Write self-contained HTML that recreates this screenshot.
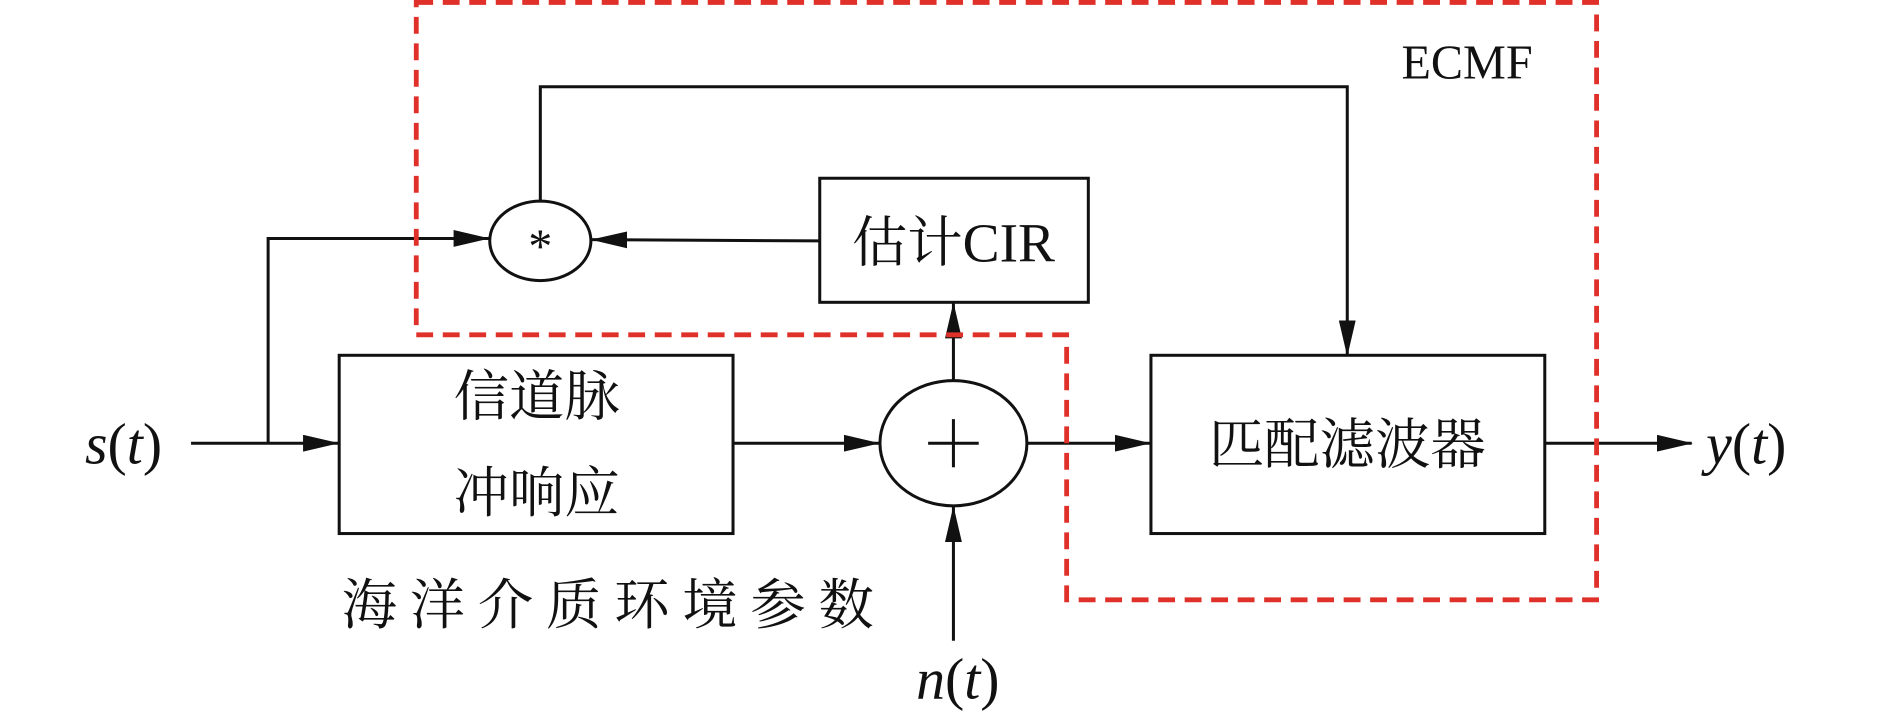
<!DOCTYPE html>
<html><head><meta charset="utf-8"><style>
html,body{margin:0;padding:0;background:#fff;}
svg{display:block;}
text{font-family:"Liberation Serif","Noto Serif CJK SC",serif;fill:#111;}
</style></head><body>
<svg width="1890" height="713" viewBox="0 0 1568 592" xmlns="http://www.w3.org/2000/svg">
<defs>
<marker id="a" markerWidth="12" markerHeight="10" refX="11" refY="5" orient="auto" markerUnits="userSpaceOnUse">
<path d="M0,0 L12,5 L0,10 Z" fill="#111"/></marker>
<marker id="b" markerWidth="30" markerHeight="14" refX="29" refY="7" orient="auto" markerUnits="userSpaceOnUse">
<path d="M0,0 L30,7 L0,14 Z" fill="#111"/></marker>
</defs>
<g fill="none" stroke="#111" stroke-width="2.5">
<!-- feedback -->
<polyline points="448,167 448,72 1118,72 1118,295" marker-end="url(#b)"/>
<ellipse cx="448" cy="200" rx="42" ry="33"/>
<rect x="680" y="148" width="223" height="103"/>
<line x1="680" y1="200" x2="491" y2="199" marker-end="url(#b)"/>
<polyline points="222,368 222,198 405,198" marker-end="url(#b)"/>
<line x1="158" y1="368" x2="280" y2="368" marker-end="url(#b)"/>
<rect x="281" y="295" width="327" height="148"/>
<line x1="608" y1="368" x2="729" y2="368" marker-end="url(#b)"/>
<ellipse cx="791" cy="368" rx="61" ry="52"/>
<line x1="770" y1="368" x2="812" y2="368"/>
<line x1="791" y1="348" x2="791" y2="388"/>
<line x1="791" y1="316" x2="791" y2="252" marker-end="url(#b)"/>
<line x1="791" y1="532" x2="791" y2="421" marker-end="url(#b)"/>
<line x1="852" y1="368" x2="954" y2="368" marker-end="url(#b)"/>
<rect x="955" y="295" width="327" height="148"/>
<line x1="1282" y1="368" x2="1404" y2="368" marker-end="url(#b)"/>
</g>
<polygon points="345,2 1325,2 1325,498 885,498 885,278 345,278" fill="none" stroke="#e0302a" stroke-width="4" stroke-dasharray="14,8"/>
<text x="1163" y="65" font-size="40">ECMF</text>
<text x="448" y="218" font-size="40" text-anchor="middle">*</text>
<text x="791" y="217" font-size="46" text-anchor="middle">估计CIR</text>
<text x="445" y="345" font-size="46" text-anchor="middle">信道脉</text>
<text x="445" y="425" font-size="46" text-anchor="middle">冲响应</text>
<text x="1118" y="385" font-size="46" text-anchor="middle">匹配滤波器</text>
<text x="504" y="518" font-size="46" text-anchor="middle" textLength="442">海洋介质环境参数</text>
<text x="70" y="385" font-size="48"><tspan font-style="italic">s</tspan>(<tspan font-style="italic">t</tspan>)</text>
<text x="1416" y="385" font-size="48"><tspan font-style="italic">y</tspan>(<tspan font-style="italic">t</tspan>)</text>
<text x="760" y="580" font-size="48"><tspan font-style="italic">n</tspan>(<tspan font-style="italic">t</tspan>)</text>
</svg>
</body></html>
